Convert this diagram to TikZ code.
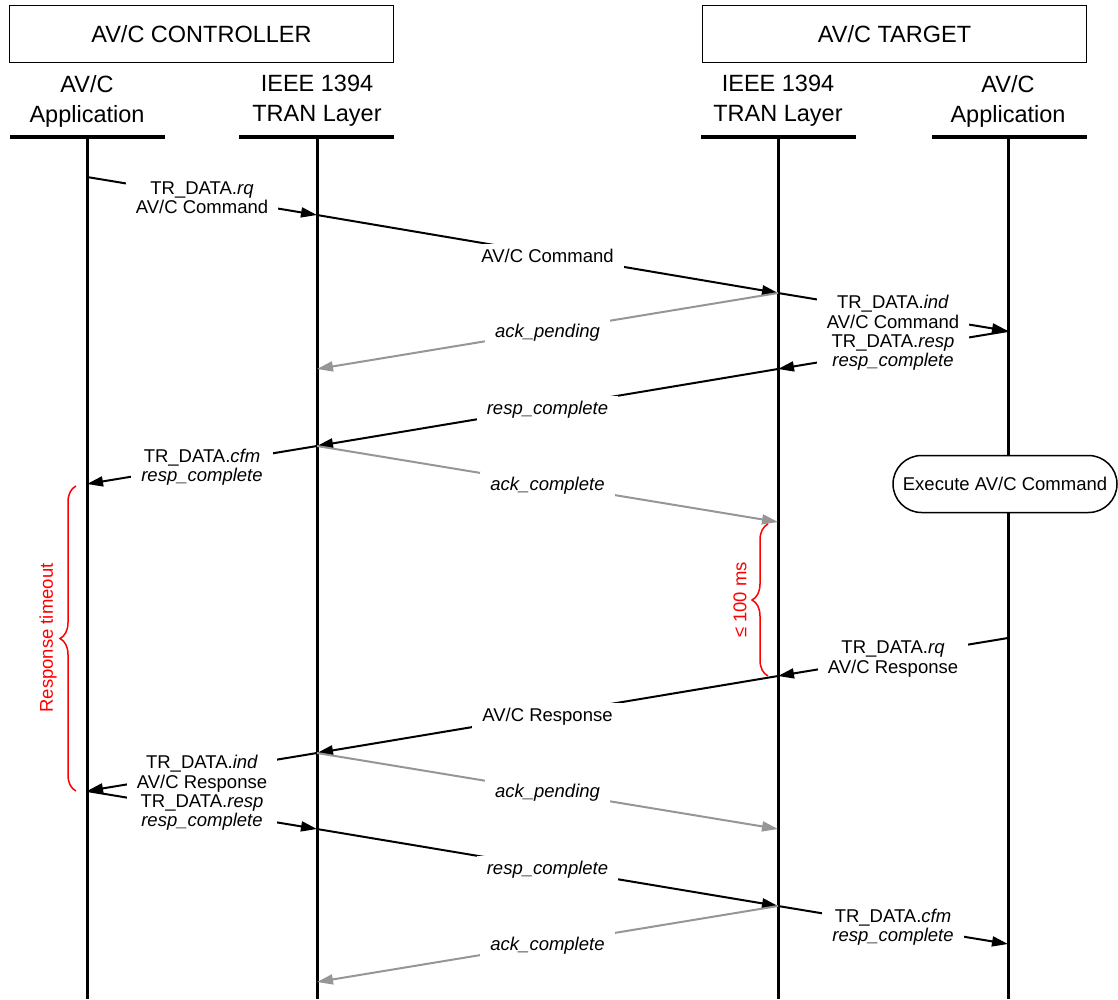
\documentclass[tikz,border=0pt]{standalone}
\usepackage{fontspec}
\setmainfont{Liberation Sans}
\usetikzlibrary{arrows.meta,decorations.pathreplacing,shapes.misc}
\definecolor{ackgray}{RGB}{150,150,150}
\definecolor{notered}{RGB}{255,0,0}

\begin{document}
\begin{tikzpicture}[x=1pt,y=-1pt,
  hdrbox/.style={draw,line width=1.5pt,minimum width=384pt,minimum height=57pt,
    inner sep=0pt,font=\fontsize{23.5}{28}\selectfont},
  colhead/.style={align=center,inner sep=0pt,font=\fontsize{23.5}{30}\selectfont},
  bar/.style={fill=black,minimum width=155pt,minimum height=3.5pt,inner sep=0pt},
  life/.style={line width=3pt},
  msg/.style={line width=2pt,-{Triangle[length=16pt,width=10pt]}},
  ack/.style={msg,color=ackgray},
  lbl/.style={fill=white,align=center,inner xsep=10pt,inner ysep=5pt,yshift=-2pt,
    font=\fontsize{18.5}{19.2}\selectfont},
  execbox/.style={rounded rectangle,draw,fill=white,line width=1.5pt,
    minimum width=224pt,minimum height=57pt,inner sep=0pt,
    font=\fontsize{18.5}{22}\selectfont},
  bracemark/.style={decorate,decoration={brace,amplitude=16pt},notered,line width=1.5pt},
  bracetxt/.style={rotate=90,text=notered,inner sep=0pt,font=\fontsize{18.5}{22}\selectfont}
]
\useasboundingbox (0,0) rectangle (1118,999);

% entity boxes
\node[hdrbox] (ctl) at (201.5,34) {AV/C CONTROLLER};
\node[hdrbox] (tgt) at (894.5,34) {AV/C TARGET};

% column headings and their bars
\node[colhead] (h1) at (87,101) {AV/C\\Application};
\node[colhead] (h2) at (317,101) {IEEE 1394\\TRAN Layer};
\node[colhead] (h3) at (778,101) {IEEE 1394\\TRAN Layer};
\node[colhead] (h4) at (1008,101) {AV/C\\Application};
\node[bar] (u1) at (87.5,137) {};
\node[bar] (u2) at (316.5,137) {};
\node[bar] (u3) at (778.5,137) {};
\node[bar] (u4) at (1009.5,137) {};

% lifelines
\coordinate (e1) at (87,999);
\coordinate (e2) at (317,999);
\coordinate (e3) at (778,999);
\coordinate (e4) at (1008,999);
\draw[life] (87,137) -- (e1);
\draw[life] (317,137) -- (e2);
\draw[life] (778,137) -- (e3);
\draw[life] (1008,137) -- (e4);

% event points on the lifelines
\coordinate (A1) at (87,177);
\coordinate (A2) at (87,484);
\coordinate (A3) at (87,791);
\coordinate (B1) at (317,215);
\coordinate (B2) at (317,369);
\coordinate (B3) at (317,446);
\coordinate (B4) at (317,753);
\coordinate (B5) at (317,829);
\coordinate (B6) at (317,982);
\coordinate (C1) at (778,293);
\coordinate (C2) at (778,369);
\coordinate (C3) at (778,522);
\coordinate (C4) at (778,676);
\coordinate (C5) at (778,829);
\coordinate (C6) at (778,906);
\coordinate (D1) at (1008,331);
\coordinate (D2) at (1008,638);
\coordinate (D3) at (1008,944);

% command exchange
\draw[msg] (A1) -- node[lbl] (m1) {TR\_DATA.\textit{rq}\\AV/C Command} (B1);
\draw[msg] (B1) -- node[lbl] (m2) {AV/C Command} (C1);
\draw[msg] (C1) -- (D1);
\draw[msg] (D1) -- (C2);
\draw[ack] (C1) -- node[lbl,text=black] (m3) {\textit{ack\_pending}} (B2);
\node[lbl] (m4) at (893,331) {TR\_DATA.\textit{ind}\\AV/C Command\\TR\_DATA.\textit{resp}\\\textit{resp\_complete}};
\draw[msg] (C2) -- node[lbl] (m5) {\textit{resp\_complete}} (B3);
\draw[msg] (B3) -- node[lbl] (m6) {TR\_DATA.\textit{cfm}\\\textit{resp\_complete}} (A2);
\draw[ack] (B3) -- node[lbl,text=black] (m7) {\textit{ack\_complete}} (C3);

\node[execbox] (exec) at (1005,484) {Execute AV/C Command};

% response exchange
\draw[msg] (D2) -- node[lbl] (m8) {TR\_DATA.\textit{rq}\\AV/C Response} (C4);
\draw[msg] (C4) -- node[lbl] (m9) {AV/C Response} (B4);
\draw[msg] (B4) -- (A3);
\draw[msg] (A3) -- (B5);
\draw[ack] (B4) -- node[lbl,text=black] (m10) {\textit{ack\_pending}} (C5);
\node[lbl] (m11) at (202,791) {TR\_DATA.\textit{ind}\\AV/C Response\\TR\_DATA.\textit{resp}\\\textit{resp\_complete}};
\draw[msg] (B5) -- node[lbl] (m12) {\textit{resp\_complete}} (C6);
\draw[msg] (C6) -- node[lbl] (m13) {TR\_DATA.\textit{cfm}\\\textit{resp\_complete}} (D3);
\draw[ack] (C6) -- node[lbl,text=black] (m14) {\textit{ack\_complete}} (B6);

% timing braces
\coordinate (rtb) at (76,791);
\coordinate (rtt) at (76,486);
\draw[bracemark] (rtb) -- (rtt);
\node[bracetxt] (rt) at (48,638) {Response timeout};
\coordinate (tmb) at (768,676);
\coordinate (tmt) at (768,524);
\draw[bracemark] (tmb) -- (tmt);
\node[bracetxt] (tm) at (740,600) {≤ 100 ms};
\end{tikzpicture}
\end{document}
